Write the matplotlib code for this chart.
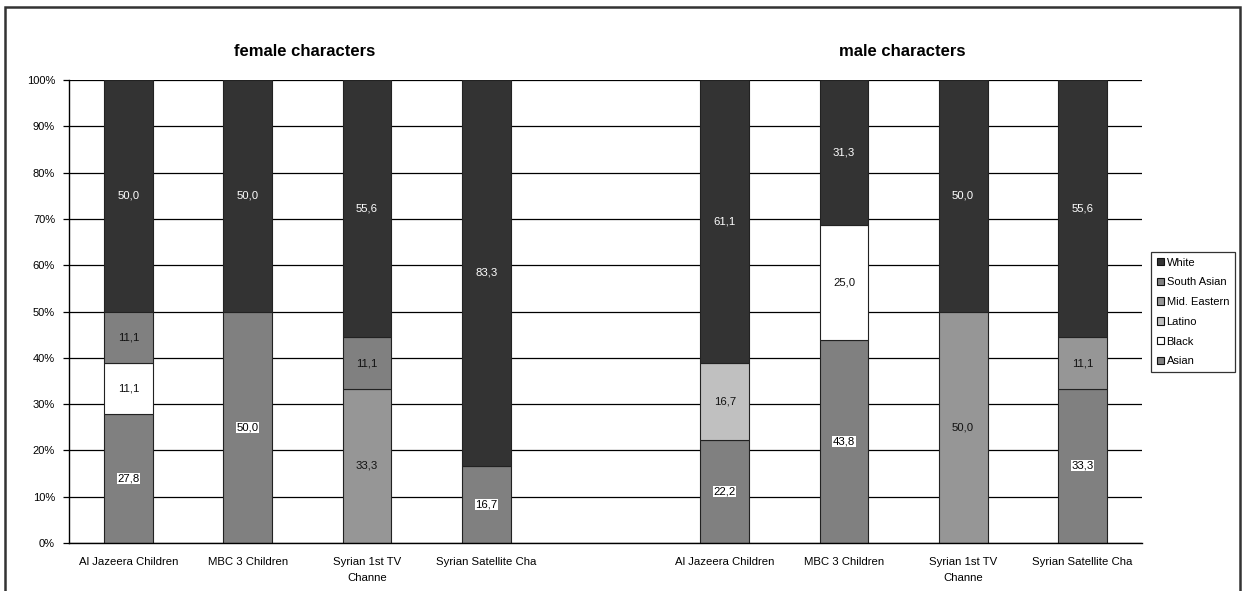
import numpy as np
import matplotlib
matplotlib.use("Agg")
import matplotlib.pyplot as plt
from matplotlib.patches import Patch, Rectangle

plt.rcParams["font.family"] = ["Liberation Sans", "DejaVu Sans"]

# Channels (female group, blank spacer, male group)
categories = [
    "Al Jazeera Children", "MBC 3 Children", "Syrian 1st TV\nChanne", "Syrian Satellite Cha",
    "",
    "Al Jazeera Children", "MBC 3 Children", "Syrian 1st TV\nChanne", "Syrian Satellite Cha",
]

# Share of characters by ethnicity (%), stacked bottom to top
series_names = ["Asian", "Black", "Latino", "Mid. Eastern", "South Asian", "White"]
asian        = [27.8, 50.0, 0.0, 16.7, 0.0, 22.2, 43.8, 0.0, 33.3]
black        = [11.1, 0.0, 0.0, 0.0, 0.0, 0.0, 25.0, 0.0, 0.0]
latino       = [0.0, 0.0, 0.0, 0.0, 0.0, 16.7, 0.0, 0.0, 0.0]
mid_eastern  = [0.0, 0.0, 33.3, 0.0, 0.0, 0.0, 0.0, 50.0, 11.1]
south_asian  = [11.1, 0.0, 11.1, 0.0, 0.0, 0.0, 0.0, 0.0, 0.0]
white        = [50.0, 50.0, 55.6, 83.3, 0.0, 61.1, 31.3, 50.0, 55.6]

group_titles = ["female characters", "male characters"]
y_ticks = [0, 10, 20, 30, 40, 50, 60, 70, 80, 90, 100]

colors = {
    "Asian": "#808080",
    "Black": "#FFFFFF",
    "Latino": "#C0C0C0",
    "Mid. Eastern": "#969696",
    "South Asian": "#808080",
    "White": "#333333",
}

values = np.array([asian, black, latino, mid_eastern, south_asian, white])
totals = values.sum(axis=0)
shares = np.divide(values, totals, out=np.zeros_like(values), where=totals > 0) * 100

W, H = 1242, 591
fig = plt.figure(figsize=(W / 100, H / 100), dpi=100)
fig.patch.set_facecolor("white")

# outer chart border
fig.patches.append(Rectangle((5 / W, -0.05), 1235 / W, 1.05 - 7 / H, transform=fig.transFigure,
                             fill=False, edgecolor="#333333", linewidth=1.8, zorder=0))

ax = fig.add_axes([69 / W, 48 / H, 1073 / W, 463 / H])
x = np.arange(len(categories))
ax.set_xlim(-0.5, len(categories) - 0.5)
ax.set_ylim(0, 100)

for yv in y_ticks:
    ax.axhline(yv, color="black", linewidth=0.9, zorder=0)

label_size = 8.2
bottom = np.zeros(len(categories))
for name, raw, sh in zip(series_names, values, shares):
    keep = sh > 0
    ax.bar(x[keep], sh[keep], width=0.41, bottom=bottom[keep], color=colors[name],
           edgecolor="#222222", linewidth=0.8, zorder=2)
    for i in np.where(keep)[0]:
        yc = bottom[i] + sh[i] / 2
        txt = f"{raw[i]:.1f}".replace(".", ",")
        if name == "White":
            ax.text(x[i], yc, txt, ha="center", va="center", fontsize=label_size,
                    color="white", zorder=3)
        elif name == "Asian":
            ax.text(x[i], yc, txt, ha="center", va="center", fontsize=label_size,
                    color="black", zorder=3,
                    bbox=dict(boxstyle="square,pad=0.05", facecolor="white", edgecolor="none"))
        else:
            ax.text(x[i], yc, txt, ha="center", va="center", fontsize=label_size,
                    color="#111111", zorder=3)
    bottom += sh

for side in ["top", "right"]:
    ax.spines[side].set_visible(False)
ax.spines["left"].set_linewidth(1.0)
ax.spines["bottom"].set_linewidth(1.0)

ax.set_yticks(y_ticks)
ax.set_yticklabels([f"{v}%" for v in y_ticks], fontsize=8)
ax.tick_params(axis="y", length=4, width=0.9, pad=6)
ax.set_xticks(x)
ax.set_xticklabels(categories, fontsize=8.2, linespacing=1.75)
ax.tick_params(axis="x", length=0, pad=10)

fig.text(305 / W, 1 - 51 / H, group_titles[0], ha="center", va="center",
         fontsize=12, fontweight="bold")
fig.text(902 / W, 1 - 51 / H, group_titles[1], ha="center", va="center",
         fontsize=12, fontweight="bold")

handles = [Patch(facecolor=colors[n], edgecolor="#111111", linewidth=0.8)
           for n in reversed(series_names)]
leg = fig.legend(handles, list(reversed(series_names)), loc="upper left",
                 bbox_to_anchor=(1151 / W, 1 - 252 / H), bbox_transform=fig.transFigure,
                 fontsize=8, frameon=True, fancybox=False, edgecolor="black",
                 handlelength=0.65, handleheight=0.65, handletextpad=0.25,
                 labelspacing=0.88, borderpad=0.5, borderaxespad=0)
leg.get_frame().set_linewidth(0.9)

fig.savefig("out.png", dpi=100, facecolor="white")
